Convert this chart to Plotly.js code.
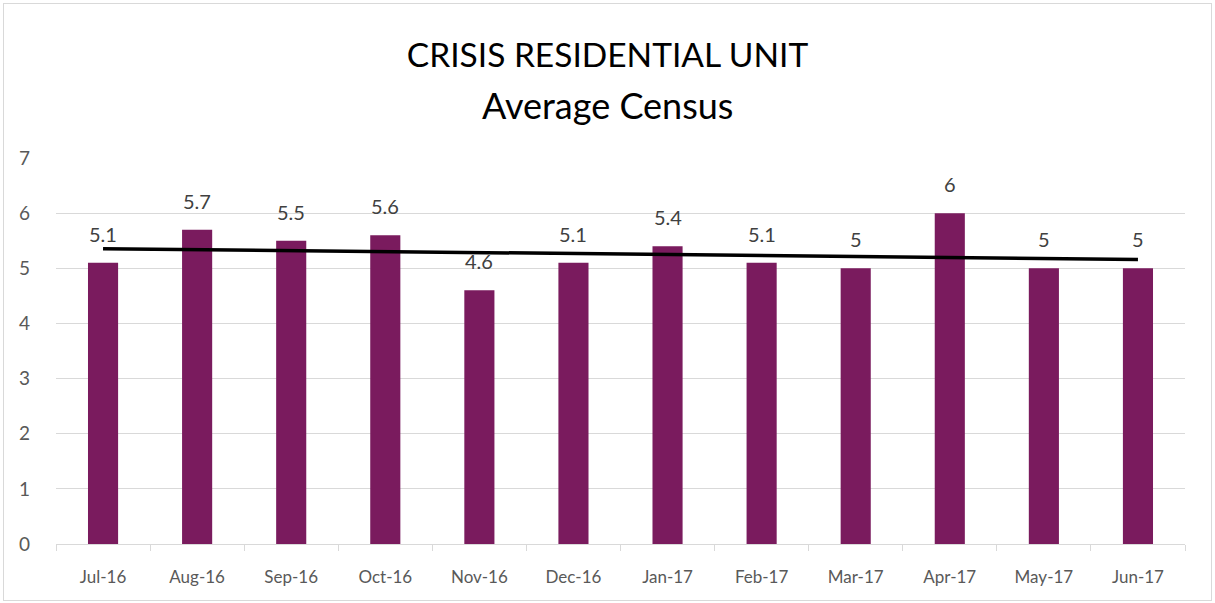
<!DOCTYPE html>
<html>
<head>
<meta charset="utf-8">
<script src="https://cdn.plot.ly/plotly-3.0.1.min.js"></script>
<style>
  body { margin: 0; background: #fff; }
  #chart { width: 1215px; height: 603px; }
  #frame { position: absolute; left: 3px; top: 3px; width: 1207px; height: 596px; border: 1px solid #d9d9d9; pointer-events: none; }
</style>
</head>
<body>
<div id="chart"></div>
<div id="frame"></div>
<script>
const months = ["Jul-16","Aug-16","Sep-16","Oct-16","Nov-16","Dec-16","Jan-17","Feb-17","Mar-17","Apr-17","May-17","Jun-17"];
const census = [5.1, 5.7, 5.5, 5.6, 4.6, 5.1, 5.4, 5.1, 5, 6, 5, 5];
const yTicks = [0, 1, 2, 3, 4, 5, 6, 7];
const titleLine1 = "CRISIS RESIDENTIAL UNIT";
const titleLine2 = "Average Census";

// Linear trendline (least squares), as the spreadsheet's trendline
const n = census.length;
const xs = census.map((_, i) => i + 1);
const mx = xs.reduce((a, b) => a + b, 0) / n;
const my = census.reduce((a, b) => a + b, 0) / n;
let sxy = 0, sxx = 0;
for (let i = 0; i < n; i++) { sxy += (xs[i] - mx) * (census[i] - my); sxx += (xs[i] - mx) ** 2; }
const slope = sxy / sxx;
const icpt = my - slope * mx;
const trend = xs.map(x => icpt + slope * x);

const font = "Lato, 'Open Sans', sans-serif";

const data = [
  {
    type: "bar",
    x: months,
    y: census,
    marker: { color: "#7A1B5E" },
    width: 0.32,
    hoverinfo: "x+y"
  },
  {
    type: "scatter",
    mode: "lines",
    x: months,
    y: trend,
    line: { color: "#000000", width: 3.5 },
    hoverinfo: "skip"
  }
];

const labels = months.map((m, i) => ({
  x: m,
  y: census[i],
  xref: "x",
  yref: "y",
  text: String(census[i]),
  showarrow: false,
  yanchor: "bottom",
  yshift: 15,
  font: { family: font, size: 20, color: "#404040" }
}));

labels.push({
  text: titleLine2,
  xref: "paper",
  yref: "paper",
  x: (607.5 - 56) / (1185 - 56),
  xanchor: "center",
  y: 1 + (158 - 105) / 386,
  yanchor: "middle",
  showarrow: false,
  font: { family: font, size: 36, color: "#000000" }
});

const layout = {
  width: 1215,
  height: 603,
  margin: { l: 56, r: 30, t: 158, b: 59 },
  paper_bgcolor: "#ffffff",
  plot_bgcolor: "#ffffff",
  showlegend: false,
  title: {
    text: titleLine1,
    font: { family: font, size: 33.5, color: "#000000" },
    x: 0.5,
    xanchor: "center",
    xref: "container",
    yref: "container",
    y: 1 - 55 / 603,
    yanchor: "middle"
  },
  annotations: labels,
  xaxis: {
    type: "category",
    showline: true,
    linecolor: "#d9d9d9",
    linewidth: 1,
    ticks: "outside",
    tickson: "boundaries",
    ticklen: 6,
    tickcolor: "#d9d9d9",
    showgrid: false,
    tickfont: { family: font, size: 17, color: "#595959" },
    ticklabelstandoff: 18
  },
  yaxis: {
    range: [0, 7],
    tickvals: yTicks,
    ticktext: yTicks.map(String),
    showgrid: true,
    gridcolor: "#d9d9d9",
    gridwidth: 1,
    zeroline: false,
    showline: false,
    tickfont: { family: font, size: 19, color: "#595959" },
    ticklabelstandoff: 25
  },
  bargap: 0.68
};

Plotly.newPlot("chart", data, layout, { displayModeBar: false, staticPlot: true });
</script>
</body>
</html>
